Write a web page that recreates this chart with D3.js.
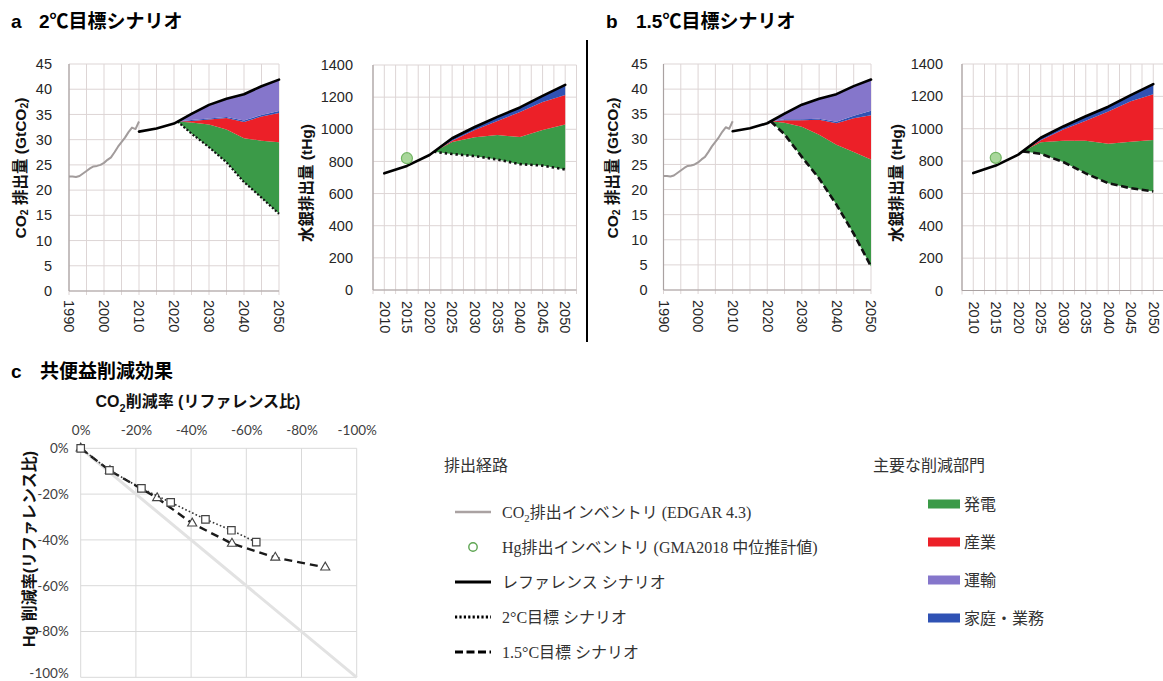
<!DOCTYPE html>
<html>
<head>
<meta charset="utf-8">
<script src="https://cdn.jsdelivr.net/npm/d3@7"></script>
<style>
  body { margin: 0; background: #fff; }
  svg { display: block; }
</style>
</head>
<body>
<svg id="chart" width="1163" height="681"></svg>
<script>
// ---------------- data ----------------
// CO2 inventory (EDGAR 4.3), GtCO2
const histYears = [1990, 1991, 1992, 1993, 1994, 1995, 1996, 1997, 1998, 1999, 2000,
                   2001, 2002, 2003, 2004, 2005, 2006, 2007, 2008, 2009, 2010];
const co2Inventory = [22.7, 22.7, 22.6, 22.8, 23.3, 23.8, 24.3, 24.7, 24.8, 25.0, 25.4,
                      26.0, 26.5, 27.5, 28.6, 29.5, 30.4, 31.5, 32.4, 32.1, 33.6];

// reference scenario
const refYears = [2010, 2015, 2020, 2025, 2030, 2035, 2040, 2045, 2050];
const co2Reference = [31.6, 32.2, 33.2, 35.1, 36.9, 38.1, 39.0, 40.6, 41.9];
const hgReference = [726, 772, 840, 944, 1014, 1077, 1136, 1208, 1276];

// Hg inventory (GMA2018 central estimate), tHg
const hgInventoryYears = [2015];
const hgInventory = [820];

// mitigation scenarios
const scenarioYears = [2021, 2025, 2030, 2035, 2040, 2045, 2050];
const sectors = ["発電", "産業", "家庭・業務", "運輸"];          // stacking order, bottom up
const legendSectors = ["発電", "産業", "運輸", "家庭・業務"];    // legend order

// 2℃ target: CO2
const co2Target2C = [33.6, 31.2, 28.5, 25.5, 21.6, 18.5, 15.3];
const co2PowerCut2C = [0, 2.2, 4.5, 6.5, 8.7, 11.3, 14.2];
const co2IndustryCut2C = [0, 0.3, 1.0, 2.3, 3.2, 4.8, 5.8];
const co2BuildingCut2C = [0, 0.2, 0.2, 0.2, 0.3, 0.3, 0.4];
const co2TransportCut2C = [0, 1.2, 2.7, 3.6, 5.2, 5.7, 6.2];

// 2℃ target: Hg
const hgTarget2C = [860, 846, 833, 812, 783, 774, 750];
const hgPowerCut2C = [0, 75, 117, 152, 169, 222, 280];
const hgIndustryCut2C = [0, 8, 46, 88, 156, 174, 183];
const hgBuildingCut2C = [0, 15, 18, 25, 28, 38, 63];
const hgTransportCut2C = [0, 0, 0, 0, 0, 0, 0];

// 1.5℃ target: CO2
const co2Target15C = [33.6, 31.0, 26.5, 22.2, 17.0, 11.2, 4.7];
const co2PowerCut15C = [0, 2.3, 6.0, 8.7, 11.9, 16.3, 21.3];
const co2IndustryCut15C = [0, 0.5, 1.3, 3.0, 4.3, 6.7, 8.8];
const co2BuildingCut15C = [0, 0.2, 0.2, 0.2, 0.3, 0.5, 0.9];
const co2TransportCut15C = [0, 1.1, 2.9, 4.0, 5.5, 5.9, 6.2];

// 1.5℃ target: Hg
const hgTarget15C = [860, 845, 794, 724, 663, 632, 612];
const hgPowerCut15C = [0, 71, 131, 202, 244, 288, 318];
const hgIndustryCut15C = [0, 13, 70, 124, 199, 250, 283];
const hgBuildingCut15C = [0, 15, 19, 27, 30, 38, 63];
const hgTransportCut15C = [0, 0, 0, 0, 0, 0, 0];

// co-benefit: reduction rates vs reference (%)
const co2Rate2C = [0, -10.4, -22.0, -32.6, -45.2, -54.6, -63.6];
const hgRate2C = [0, -9.6, -17.5, -23.6, -31.0, -35.8, -41.0];
const co2Rate15C = [0, -10.6, -27.7, -40.4, -54.8, -70.5, -88.6];
const hgRate15C = [0, -9.8, -21.7, -32.8, -41.6, -47.7, -52.0];
const parityLine = [0, -100];

// ticks
const co2YearTicks = [1990, 2000, 2010, 2020, 2030, 2040, 2050];
const hgYearTicks = [2010, 2015, 2020, 2025, 2030, 2035, 2040, 2045, 2050];
const co2ValueTicks = [0, 5, 10, 15, 20, 25, 30, 35, 40, 45];
const hgValueTicks = [0, 200, 400, 600, 800, 1000, 1200, 1400];
const rateTicks = [0, -20, -40, -60, -80, -100];

// legend texts
const pathwayLegend = ["CO₂排出インベントリ (EDGAR 4.3)", "Hg排出インベントリ (GMA2018 中位推計値)",
                       "レファレンス シナリオ", "2°C目標 シナリオ", "1.5°C目標 シナリオ"];

// ---------------- styles ----------------
const SANS = '"Liberation Sans", Arial, "Noto Sans CJK JP", sans-serif';
const CJK = '"Noto Sans CJK JP", sans-serif';
const SERIF = '"Liberation Serif", "Noto Sans CJK JP", serif';
const C_SANS = 'Lato, "Liberation Sans", sans-serif';
const sectorColor = { "発電": "#3b9a48", "産業": "#ec2028", "家庭・業務": "#2f52b4", "運輸": "#8576cb" };
const GRID = "#ddd5d5";
const AXIS = "#aaa2a2";
const INK = "#262626";

const svg = d3.select("#chart");

function richText(sel, parts) {
  // parts: [text, isSubscript]
  let shifted = false;
  parts.forEach(([t, sub]) => {
    const ts = sel.append("tspan").text(t);
    if (sub) { ts.attr("font-size", "0.68em").attr("dy", "0.42em"); shifted = true; }
    else if (shifted) { ts.attr("dy", "-0.29em"); shifted = false; }
  });
  return sel;
}

// ---------------- emission panels ----------------
function emissionPanel(cfg) {
  const g = svg.append("g");
  const x = d3.scaleLinear(cfg.xDomain, cfg.xRange);
  const y = d3.scaleLinear(cfg.yDomain, cfg.yRange);
  const [xl, xr] = cfg.xRange;
  const [yb, yt] = cfg.yRange;

  // grid
  g.append("g").selectAll("line").data(cfg.gridX).join("line")
    .attr("x1", d => x(d)).attr("x2", d => x(d))
    .attr("y1", yt).attr("y2", yb + 4)
    .attr("stroke", GRID).attr("stroke-width", 1);
  g.append("g").selectAll("line").data(cfg.yTicks).join("line")
    .attr("x1", xl).attr("x2", xr)
    .attr("y1", d => y(d)).attr("y2", d => y(d))
    .attr("stroke", GRID).attr("stroke-width", 1);
  g.append("line").attr("x1", xl).attr("x2", xl).attr("y1", yt).attr("y2", yb)
    .attr("stroke", AXIS).attr("stroke-width", 1.2);
  g.append("line").attr("x1", xl).attr("x2", xr).attr("y1", yb).attr("y2", yb)
    .attr("stroke", AXIS).attr("stroke-width", 1.2);

  // y axis labels
  const ya = g.append("g").attr("transform", `translate(${xl},0)`)
    .call(d3.axisLeft(y).tickValues(cfg.yTicks).tickSize(0).tickPadding(cfg.yPad).tickFormat(d3.format("d")));
  ya.select(".domain").remove();
  ya.selectAll("text").attr("font-family", SANS).attr("font-size", 14.5).attr("fill", INK);

  // x axis labels (vertical)
  const xa = g.append("g").attr("transform", `translate(0,${yb})`)
    .call(d3.axisBottom(x).tickValues(cfg.xTicks).tickSize(0).tickFormat(d3.format("d")));
  xa.select(".domain").remove();
  xa.selectAll("text")
    .attr("font-family", SANS).attr("font-size", 14.5).attr("fill", INK)
    .attr("transform", "rotate(90)")
    .attr("x", cfg.xPad).attr("y", 0).attr("dy", "0.36em")
    .attr("text-anchor", "start");

  // stacked sector reductions above the target pathway
  const rows = cfg.scenarioYears.map((yr, i) => {
    const r = { year: yr, base: cfg.target[i] };
    sectors.forEach((s, k) => { r[s] = cfg.cuts[k][i]; });
    return r;
  });
  const layers = d3.stack().keys(["base", ...sectors])(rows).slice(1)
    .filter(l => l.some(d => d[1] - d[0] > 0));
  const area = d3.area().x(d => x(d.data.year)).y0(d => y(d[0])).y1(d => y(d[1]));
  g.append("g").selectAll("path").data(layers).join("path")
    .attr("d", area).attr("fill", d => sectorColor[d.key]);

  const line = d3.line().x(d => x(d[0])).y(d => y(d[1]));

  // target pathway
  g.append("path")
    .attr("d", line(cfg.scenarioYears.map((yr, i) => [yr, cfg.target[i]])))
    .attr("fill", "none").attr("stroke", "#111")
    .attr("stroke-width", cfg.dashWidth).attr("stroke-dasharray", cfg.dash);

  // inventory
  if (cfg.hist) {
    g.append("path")
      .attr("d", line(cfg.histYears.map((yr, i) => [yr, cfg.hist[i]])))
      .attr("fill", "none").attr("stroke", "#a29c9c").attr("stroke-width", 2)
      .attr("stroke-linejoin", "round");
  }

  // reference
  g.append("path")
    .attr("d", line(refYears.map((yr, i) => [yr, cfg.reference[i]])))
    .attr("fill", "none").attr("stroke", "#000").attr("stroke-width", 2.6)
    .attr("stroke-linejoin", "round").attr("stroke-linecap", "round");

  if (cfg.points) {
    g.selectAll("circle.inv").data(cfg.pointYears).join("circle")
      .attr("cx", d => x(d)).attr("cy", (d, i) => y(cfg.points[i])).attr("r", 5.5)
      .attr("fill", "#a9d79b").attr("stroke", "#72b563").attr("stroke-width", 1.2);
  }

  // axis title
  const t = g.append("text")
    .attr("transform", `translate(${cfg.titleX},${cfg.titleY}) rotate(-90)`)
    .attr("text-anchor", "middle").attr("dominant-baseline", "central")
    .attr("font-family", SANS).attr("font-weight", 700).attr("font-size", 15.5).attr("fill", "#111");
  richText(t, cfg.title);
}

const co2Grid = [1990, 1995, 2000, 2005, 2010, 2015, 2020, 2025, 2030, 2035, 2040, 2045, 2050];
const hgGrid = d3.range(2007.5, 2053, 2.5);
const co2Title = [["CO"], ["2", true], [" 排出量 (GtCO"], ["2", true], [")"]];
const hgTitle = [["水銀排出量 (tHg)"]];

emissionPanel({
  xDomain: [1990, 2050], xRange: [69, 279], yDomain: [0, 45], yRange: [291, 64],
  gridX: co2Grid, xTicks: co2YearTicks, yTicks: co2ValueTicks, yPad: 17, xPad: 9,
  scenarioYears, target: co2Target2C,
  cuts: [co2PowerCut2C, co2IndustryCut2C, co2BuildingCut2C, co2TransportCut2C],
  dash: "2,2", dashWidth: 2.2, reference: co2Reference,
  hist: co2Inventory, histYears, title: co2Title, titleX: 20, titleY: 168
});
emissionPanel({
  xDomain: [2007.5, 2052.5], xRange: [373, 576.5], yDomain: [0, 1400], yRange: [290, 65],
  gridX: hgGrid, xTicks: hgYearTicks, yTicks: hgValueTicks, yPad: 20, xPad: 11,
  scenarioYears, target: hgTarget2C,
  cuts: [hgPowerCut2C, hgIndustryCut2C, hgBuildingCut2C, hgTransportCut2C],
  dash: "2.4,3", dashWidth: 2.6, reference: hgReference,
  points: hgInventory, pointYears: hgInventoryYears,
  title: hgTitle, titleX: 306, titleY: 183
});
emissionPanel({
  xDomain: [1990, 2050], xRange: [663.5, 871], yDomain: [0, 45], yRange: [290, 64],
  gridX: co2Grid, xTicks: co2YearTicks, yTicks: co2ValueTicks, yPad: 16, xPad: 10,
  scenarioYears, target: co2Target15C,
  cuts: [co2PowerCut15C, co2IndustryCut15C, co2BuildingCut15C, co2TransportCut15C],
  dash: "7,3.5", dashWidth: 2.6, reference: co2Reference,
  hist: co2Inventory, histYears, title: co2Title, titleX: 612, titleY: 168
});
emissionPanel({
  xDomain: [2007.5, 2052.5], xRange: [962, 1164.5], yDomain: [0, 1400], yRange: [290.5, 64],
  gridX: hgGrid, xTicks: hgYearTicks, yTicks: hgValueTicks, yPad: 19, xPad: 11,
  scenarioYears, target: hgTarget15C,
  cuts: [hgPowerCut15C, hgIndustryCut15C, hgBuildingCut15C, hgTransportCut15C],
  dash: "7,3.5", dashWidth: 2.6, reference: hgReference,
  points: hgInventory, pointYears: hgInventoryYears,
  title: hgTitle, titleX: 896, titleY: 183
});

// divider between a and b
svg.append("line").attr("x1", 587).attr("x2", 587).attr("y1", 40).attr("y2", 342)
  .attr("stroke", "#000").attr("stroke-width", 2);

// panel headings
function heading(letter, lx, text, tx, by) {
  svg.append("text").attr("x", lx).attr("y", by).text(letter)
    .attr("font-family", SANS).attr("font-weight", 700).attr("font-size", 19).attr("fill", "#000");
  svg.append("text").attr("x", tx).attr("y", by).text(text)
    .attr("font-family", SANS).attr("font-weight", 700).attr("font-size", 19).attr("fill", "#000");
}
heading("a", 11, "2℃目標シナリオ", 39, 28);
heading("b", 606, "1.5℃目標シナリオ", 636, 28);
heading("c", 11, "共便益削減効果", 40, 378);

// ---------------- panel c ----------------
{
  const g = svg.append("g");
  const x = d3.scaleLinear([0, -100], [80.7, 356.7]);
  const y = d3.scaleLinear([0, -100], [448.3, 677.3]);

  g.append("g").selectAll("line").data(rateTicks).join("line")
    .attr("x1", d => x(d)).attr("x2", d => x(d)).attr("y1", y(0)).attr("y2", y(-100))
    .attr("stroke", "#d9d9d9").attr("stroke-width", 1);
  g.append("g").selectAll("line").data(rateTicks).join("line")
    .attr("x1", x(0)).attr("x2", x(-100)).attr("y1", d => y(d)).attr("y2", d => y(d))
    .attr("stroke", "#d9d9d9").attr("stroke-width", 1);

  const xa = g.append("g").attr("transform", `translate(0,${y(0)})`)
    .call(d3.axisTop(x).tickValues(rateTicks).tickSize(0).tickPadding(13).tickFormat(d => `${d}%`));
  xa.select(".domain").remove();
  xa.selectAll("text").attr("font-family", C_SANS).attr("font-size", 13.5).attr("fill", "#404040");

  const ya = g.append("g").attr("transform", `translate(${x(0)},0)`)
    .call(d3.axisLeft(y).tickValues(rateTicks).tickSize(0).tickPadding(12).tickFormat(d => `${d}%`));
  ya.select(".domain").remove();
  ya.selectAll("text").attr("font-family", C_SANS).attr("font-size", 13.5).attr("fill", "#404040")
    .attr("dy", d => d === -100 ? "0.05em" : "0.32em");

  // 1:1 line
  g.append("line")
    .attr("x1", x(parityLine[0])).attr("y1", y(parityLine[0]))
    .attr("x2", x(parityLine[1])).attr("y2", y(parityLine[1]))
    .attr("stroke", "#e2e2e2").attr("stroke-width", 3);

  const line = d3.line().x(d => x(d[0])).y(d => y(d[1]));
  const pts15 = co2Rate15C.map((v, i) => [v, hgRate15C[i]]);
  const pts2 = co2Rate2C.map((v, i) => [v, hgRate2C[i]]);

  g.append("path").attr("d", line(pts15)).attr("fill", "none")
    .attr("stroke", "#1a1a1a").attr("stroke-width", 2.4).attr("stroke-dasharray", "8,5");
  g.selectAll("path.tri").data(pts15).join("path").attr("class", "tri")
    .attr("transform", d => `translate(${x(d[0])},${y(d[1])})`)
    .attr("d", d3.symbol(d3.symbolTriangle, 36)())
    .attr("fill", "#fff").attr("stroke", "#444").attr("stroke-width", 1.1);

  g.append("path").attr("d", line(pts2)).attr("fill", "none")
    .attr("stroke", "#333").attr("stroke-width", 1.6).attr("stroke-dasharray", "1.6,2.2");
  g.selectAll("path.sq").data(pts2).join("path").attr("class", "sq")
    .attr("transform", d => `translate(${x(d[0])},${y(d[1])})`)
    .attr("d", d3.symbol(d3.symbolSquare, 56)())
    .attr("fill", "#fff").attr("stroke", "#444").attr("stroke-width", 1.2);

  const xt = g.append("text").attr("x", 198).attr("y", 407).attr("text-anchor", "middle")
    .attr("font-family", SANS).attr("font-weight", 700).attr("font-size", 16).attr("fill", "#111");
  richText(xt, [["CO"], ["2", true], ["削減率 (リファレンス比)"]]);

  g.append("text").attr("transform", "translate(29,549) rotate(-90)")
    .attr("text-anchor", "middle").attr("dominant-baseline", "central")
    .attr("font-family", SANS).attr("font-weight", 700).attr("font-size", 16).attr("fill", "#111")
    .text("Hg 削減率(リファレンス比)");
}

// ---------------- legends ----------------
{
  const g = svg.append("g");
  g.append("text").attr("x", 444).attr("y", 471).text("排出経路")
    .attr("font-family", CJK).attr("font-size", 16).attr("fill", "#333");

  const rowY = i => 512 + i * 35;
  const lx0 = 455, lx1 = 491;
  // sample marks
  g.append("line").attr("x1", lx0).attr("x2", lx1).attr("y1", rowY(0)).attr("y2", rowY(0))
    .attr("stroke", "#aaa2a2").attr("stroke-width", 2.5);
  g.append("circle").attr("cx", 473).attr("cy", rowY(1)).attr("r", 4.2)
    .attr("fill", "#fff").attr("stroke", "#5ea552").attr("stroke-width", 1.4);
  g.append("line").attr("x1", lx0).attr("x2", lx1).attr("y1", rowY(2)).attr("y2", rowY(2))
    .attr("stroke", "#000").attr("stroke-width", 3);
  g.append("line").attr("x1", lx0).attr("x2", lx1).attr("y1", rowY(3)).attr("y2", rowY(3))
    .attr("stroke", "#000").attr("stroke-width", 3).attr("stroke-dasharray", "2.2,2.2");
  g.append("line").attr("x1", lx0).attr("x2", lx1).attr("y1", rowY(4)).attr("y2", rowY(4))
    .attr("stroke", "#000").attr("stroke-width", 3).attr("stroke-dasharray", "8,3.5");

  pathwayLegend.forEach((label, i) => {
    const t = g.append("text").attr("x", 502).attr("y", rowY(i)).attr("dy", "0.35em")
      .attr("font-family", SERIF).attr("font-size", 16).attr("fill", "#333");
    if (label.startsWith("CO₂")) richText(t, [["CO"], ["2", true], [label.slice(3)]]);
    else t.text(label);
  });

  g.append("text").attr("x", 873).attr("y", 471).text("主要な削減部門")
    .attr("font-family", CJK).attr("font-size", 16).attr("fill", "#333");
  const srow = i => 504 + i * 38;
  legendSectors.forEach((s, i) => {
    g.append("rect").attr("x", 928).attr("y", srow(i) - 4.5).attr("width", 32).attr("height", 9)
      .attr("fill", sectorColor[s]);
    g.append("text").attr("x", 964).attr("y", srow(i)).attr("dy", "0.36em").text(s)
      .attr("font-family", CJK).attr("font-size", 16).attr("fill", "#333");
  });
}
</script>
</body>
</html>
